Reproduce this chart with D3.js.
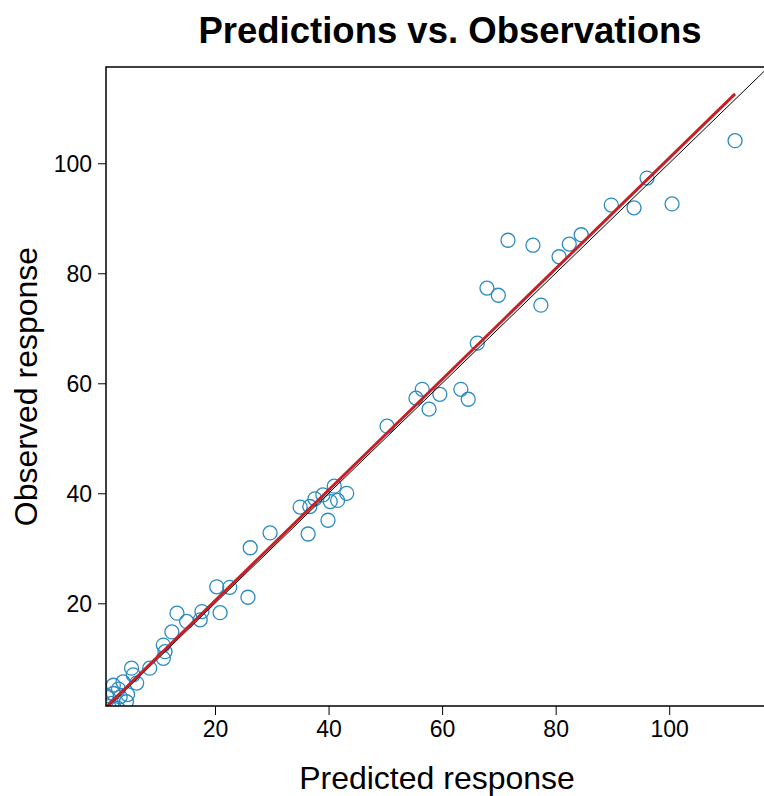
<!DOCTYPE html>
<meta charset="utf-8">
<style>
  body { margin: 0; background: #fff; }
  text { font-family: "Liberation Sans", Arial, sans-serif; fill: #000; }
</style>
<body>
<svg width="764" height="796"></svg>
<script src="https://cdn.jsdelivr.net/npm/d3@7"></script>
<script>

var predicted = [111.6, 100.5, 96.1, 93.8, 89.8, 84.5, 82.4, 80.6, 76.0, 71.6,
                 77.4, 67.9, 69.9, 66.2, 63.3, 64.6, 59.6, 56.5, 55.4, 57.7,
                 50.3, 43.2, 41.0, 41.6, 35.0, 37.6, 39.0, 40.3, 36.7, 39.9,
                 29.7, 36.4, 26.2, 20.3, 22.6, 25.8, 20.9, 13.3, 17.7, 17.4,
                 15.0, 12.4, 10.9, 11.2, 10.9, 8.5, 5.3, 5.6, 3.8, 2.1,
                 2.1, 4.4, 1.8, 3.3, 6.2, 1.3, 2.9, 0.9, 4.6, 3.0];
var observed  = [104.1, 92.6, 97.3, 91.9, 92.4, 87.0, 85.3, 83.0, 85.1, 86.0,
                 74.2, 77.3, 76.0, 67.3, 58.9, 57.1, 58.0, 58.9, 57.3, 55.3,
                 52.2, 40.0, 41.3, 38.7, 37.5, 39.0, 39.7, 38.5, 37.6, 35.1,
                 32.8, 32.6, 30.1, 23.0, 22.9, 21.1, 18.3, 18.2, 18.5, 17.0,
                 16.7, 14.8, 12.4, 11.2, 10.0, 8.2, 8.2, 7.0, 5.7, 5.1,
                 3.6, 2.1, 1.8, 3.0, 5.5, 1.2, 0.9, 3.2, 3.4, 4.4];

var xTicks = [20, 40, 60, 80, 100];
var yTicks = [20, 40, 60, 80, 100];

// fitted line (intercept, slope) over the range of predictions
var fitCoef = [0.34, 1.006];

var svg = d3.select("svg");

var box = {left: 106, top: 67, right: 768, bottom: 706};

var x = d3.scaleLinear().domain([0.8, 117.4]).range([box.left, box.right]);
var y = d3.scaleLinear().domain([1.33, 117.5]).range([box.bottom, box.top]);

svg.append("clipPath").attr("id", "plotclip")
    .append("rect")
    .attr("x", box.left).attr("y", box.top)
    .attr("width", box.right - box.left).attr("height", box.bottom - box.top);

var plot = svg.append("g").attr("clip-path", "url(#plotclip)");

// points
plot.selectAll(".pt")
    .data(predicted)
    .enter().append("circle")
    .attr("class", "pt")
    .attr("cx", function (d) { return x(d); })
    .attr("cy", function (d, i) { return y(observed[i]); })
    .attr("r", 7)
    .attr("fill", "none")
    .attr("stroke", "#2a8bc3")
    .attr("stroke-width", 1.3);

// 1:1 line
plot.append("line")
    .attr("x1", x(0)).attr("y1", y(0))
    .attr("x2", x(130)).attr("y2", y(130))
    .attr("stroke", "#000")
    .attr("stroke-width", 1);

// fitted line
var xmin = d3.min(predicted), xmax = d3.max(predicted);
plot.append("line")
    .attr("x1", x(xmin)).attr("y1", y(fitCoef[0] + fitCoef[1] * xmin))
    .attr("x2", x(xmax)).attr("y2", y(fitCoef[0] + fitCoef[1] * xmax))
    .attr("stroke", "#c62026")
    .attr("stroke-width", 3);

// frame
svg.append("rect")
    .attr("x", box.left).attr("y", box.top)
    .attr("width", box.right - box.left).attr("height", box.bottom - box.top)
    .attr("fill", "none")
    .attr("stroke", "#000")
    .attr("stroke-width", 1.5);

// axes
var xAxis = svg.append("g")
    .attr("transform", "translate(0," + box.bottom + ")")
    .call(d3.axisBottom(x).tickValues(xTicks).tickSize(9).tickPadding(6));
var yAxis = svg.append("g")
    .attr("transform", "translate(" + box.left + ",0)")
    .call(d3.axisLeft(y).tickValues(yTicks).tickSize(8).tickPadding(6));

[xAxis, yAxis].forEach(function (a) {
    a.select(".domain").remove();
    a.selectAll("text")
        .style("font-family", "'Liberation Sans', Arial, sans-serif")
        .style("font-size", "23px")
        .attr("fill", "#000");
    a.selectAll("line").attr("stroke", "#000");
});
xAxis.selectAll("text").attr("dy", "0.71em");
yAxis.selectAll("text").attr("dy", "0.36em");

// titles
svg.append("text")
    .attr("x", 450).attr("y", 43)
    .attr("text-anchor", "middle")
    .style("font-size", "36.5px")
    .style("font-weight", "bold")
    .text("Predictions vs. Observations");

svg.append("text")
    .attr("x", 437).attr("y", 789)
    .attr("text-anchor", "middle")
    .style("font-size", "32px")
    .text("Predicted response");

svg.append("text")
    .attr("transform", "translate(37," + ((box.top + box.bottom) / 2) + ") rotate(-90)")
    .attr("text-anchor", "middle")
    .style("font-size", "32px")
    .text("Observed response");

</script>
</body>
